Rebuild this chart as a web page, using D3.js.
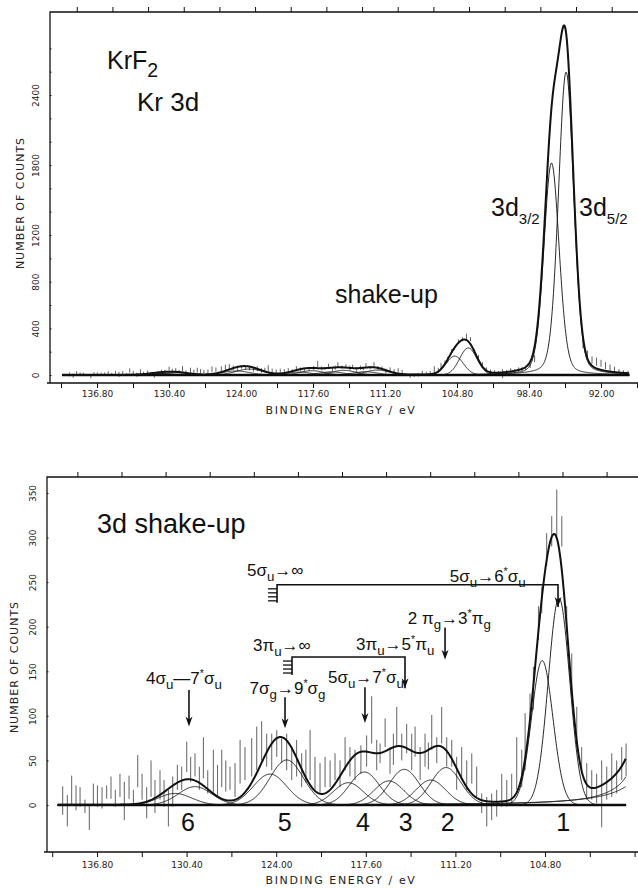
<!DOCTYPE html>
<meta charset="utf-8">
<script src="https://d3js.org/d3.v7.min.js"></script>
<style>
  body { margin: 0; background: #fff; }
  text { fill: #111; }
  .ax text { font-family: "DejaVu Sans", sans-serif; font-size: 9px; fill: #222; }
  .lbl { font-family: "Liberation Sans", "DejaVu Sans", sans-serif; }
  .plot { font-family: "DejaVu Sans", sans-serif; font-size: 11px; letter-spacing: 1px; fill: #222; }
</style>
<div id="chart"></div>
<script>
// ---- fitted line components (Kr 3d main lines + shake-up doublets) ----
const lineNames   = ["3d5/2", "3d3/2", "1", "1'", "2", "2'", "3", "3'", "4", "4'", "5", "5'", "6", "6'"];
const lineCentre  = [95.10, 96.40, 103.80, 105.00, 111.87, 112.96, 114.85, 115.95, 117.70, 118.85, 123.25, 124.44, 129.80, 131.23];
const lineHeight  = [2597, 1817, 232, 162, 42, 28, 40, 27, 37, 25, 50.5, 34.7, 20.6, 13.0];
const lineFwhm    = [1.6, 1.6, 1.8, 1.8, 2.5, 2.5, 2.5, 2.5, 2.5, 2.5, 2.8, 2.8, 2.8, 2.8];
const lineLorentz = [0.2, 0.2, 0, 0, 0, 0, 0, 0, 0, 0, 0, 0, 0, 0];

// ---- measured counts, shown as vertical error bars (binding energy, high, low) ----
const spectrumE = [139.25, 138.92, 138.61, 138.30, 138.01, 137.66, 137.35, 137.06, 136.77, 136.44,
  136.11, 135.80, 135.49, 135.16, 134.85, 134.51, 134.20, 133.89, 133.58, 133.25,
  132.94, 132.66, 132.30, 132.01, 131.70, 131.39, 131.06, 130.75, 130.39, 130.11,
  129.80, 129.49, 129.20, 128.89, 128.49, 128.19, 127.89, 127.60, 127.30, 126.94,
  126.58, 126.23, 125.75, 125.39, 125.04, 124.68, 124.32, 123.96, 123.61, 123.25,
  122.89, 122.54, 122.18, 121.88, 121.58, 121.23, 120.87, 120.51, 120.15, 119.80,
  119.44, 119.08, 118.73, 118.37, 117.95, 117.54, 117.18, 116.82, 116.58, 116.22,
  115.87, 115.63, 115.39, 115.03, 114.68, 114.32, 114.08, 113.72, 113.37, 113.13,
  112.89, 112.53, 112.18, 111.82, 111.46, 111.11, 110.75, 110.39, 110.03, 109.68,
  109.32, 108.96, 108.61, 108.25, 107.89, 107.53, 107.18, 106.82, 106.46, 106.22,
  105.87, 105.63, 105.27, 105.03, 104.68, 104.32, 103.96, 103.60, 103.25, 102.89,
  102.53, 102.18, 101.82, 101.46, 101.11, 100.75, 100.39, 100.03, 99.68, 99.32, 99.01];
const spectrumHi = [21, 11, 33, 22, 20, 6, 0, 24, 22, 20,
  22, 32, 17, 35, 26, 33, 17, 56, 35, 20,
  50, 28, 39, 28, 17, 32, 45, 43, 71, 54,
  58, 43, 76, 39, 62, 45, 62, 50, 43, 47,
  73, 65, 75, 88, 94, 80, 80, 84, 75, 80,
  65, 73, 58, 62, 84, 54, 47, 54, 50, 58,
  50, 76, 65, 62, 67, 78, 122, 73, 69, 97,
  65, 80, 110, 80, 91, 80, 88, 65, 80, 70,
  101, 76, 110, 76, 73, 54, 65, 50, 58, 43,
  13, 9, 13, 17, 35, 28, 35, 76, 62, 103,
  125, 155, 223, 245, 305, 324, 354, 324, 223, 170,
  110, 65, 47, 39, 35, 50, 43, 58, 50, 65, 69];
const spectrumLo = [-11, -24, 0, -6, -2, -9, -28, 0, -2, -4,
  7, 7, -2, 9, -17, 7, 0, 20, 6, -15,
  9, -9, 6, -2, -24, -2, 17, 17, 37, 26,
  32, 17, 30, 13, 13, 10, 20, 15, 17, 9,
  24, 28, 32, 39, 50, 43, 39, 54, 47, 39,
  28, 32, 20, 25, 28, 17, 13, 20, 20, 28,
  20, 39, 32, 28, 35, 43, 69, 39, 47, 65,
  35, 45, 65, 50, 58, 39, 54, 28, 43, 40,
  62, 47, 69, 43, 43, 17, 28, 17, 24, 9,
  -9, -24, -17, -13, -2, -2, 2, 17, 20, 39,
  95, 107, 185, 215, 268, 290, 301, 290, 193, 122,
  65, 35, 6, 6, 2, -25, 6, 9, 13, 28, 32];
// extra points on the wings of the main 3d lines (upper panel only)
const tailE  = [98.7, 98.3, 97.9, 93.6, 93.2, 92.8, 92.4, 92.0, 91.6, 91.2, 90.8, 90.4, 90.0, 89.6];
const tailHi = [80, 100, 170, 300, 210, 160, 150, 130, 110, 90, 70, 50, 40, 35];
const tailLo = [45, 60, 110, 230, 150, 100, 80, 70, 50, 35, 20, 5, -5, -10];

// ---- axis ticks and labels ----
const topXLabels = ["136.80", "130.40", "124.00", "117.60", "111.20", "104.80", "98.40", "92.00"];
const botXLabels = ["136.80", "130.40", "124.00", "117.60", "111.20", "104.80"];
const topYLabels = [0, 400, 800, 1200, 1800, 2400];
const botYLabels = [0, 50, 100, 150, 200, 250, 300, 350];
const peakNumbers = ["1", "2", "3", "4", "5", "6"];
const peakNumberE = [103.5, 111.75, 114.75, 117.8, 123.4, 130.3];

const svg = d3.select("#chart").append("svg")
  .attr("width", 638).attr("height", 889);

function profile(i, E) {
  const u = (E - lineCentre[i]) / lineFwhm[i];
  return lineHeight[i] * ((1 - lineLorentz[i]) * Math.exp(-4 * Math.LN2 * u * u)
    + lineLorentz[i] / (1 + 4 * u * u));
}
function total(E) {
  return d3.sum(lineCentre, (c, i) => profile(i, E));
}

// text with subscripts / superscripts: parts = [str, kind, dx]
function rich(g, x, y, parts, size, subScale) {
  const t = g.append("text").attr("class", "lbl").attr("x", x).attr("y", y)
    .attr("font-size", size);
  let cur = 0;
  parts.forEach(([str, kind, dx]) => {
    const target = kind === "sub" ? size * 0.3 : kind === "sup" ? -size * 0.4 : 0;
    const ts = t.append("tspan").text(str).attr("dy", target - cur);
    if (dx) ts.attr("dx", dx);
    if (kind === "sub") ts.attr("font-size", size * (subScale || 0.78));
    if (kind === "sup") ts.attr("font-size", size * 0.62);
    cur = target;
  });
  return t;
}

function panel(o) {
  const g = svg.append("g");
  const clipId = "clip" + o.id;
  svg.append("clipPath").attr("id", clipId).append("rect")
    .attr("x", o.left + 1).attr("y", o.top + 1)
    .attr("width", 638 - o.left).attr("height", o.bottom - o.top - 2);

  // frame
  g.append("path")
    .attr("d", `M${o.left},${o.bottom}V${o.top}H638M${o.left - 3},${o.bottom}H638`)
    .attr("fill", "none").attr("stroke", "#111").attr("stroke-width", 1.3);

  // y axis
  const ya = g.append("g").attr("class", "ax").attr("transform", `translate(${o.left},0)`)
    .call(d3.axisLeft(o.y).tickValues(o.yTicks).tickSize(4).tickSizeOuter(0)
      .tickFormat(d => o.yLabels.includes(d) ? d : ""));
  ya.select(".domain").remove();
  ya.selectAll(".tick line").attr("stroke", "#111").attr("x2", 1.5);
  ya.selectAll(".tick text").attr("transform", "rotate(-90)")
    .attr("x", 0).attr("y", -11).attr("dy", 0).attr("text-anchor", "middle");

  // x axis (bottom) and top border ticks
  const xa = g.append("g").attr("class", "ax").attr("transform", `translate(0,${o.bottom})`)
    .call(d3.axisBottom(o.x).tickValues(o.xTicks).tickSize(5).tickSizeOuter(0).tickPadding(o.pad)
      .tickFormat(d => o.xLabels.includes(d.toFixed(2)) ? d.toFixed(2) : ""));
  xa.select(".domain").remove();
  xa.selectAll(".tick line").attr("stroke", "#111");
  const ta = g.append("g").attr("transform", `translate(0,${o.top})`)
    .call(d3.axisTop(o.x).tickValues(o.topTicks).tickSize(5).tickFormat(""));
  ta.select(".domain").remove();
  ta.selectAll(".tick line").attr("stroke", "#111");

  // axis titles
  g.append("text").attr("class", "plot")
    .attr("transform", `translate(${o.yTitleX},${o.yTitleY}) rotate(-90)`)
    .attr("text-anchor", "middle").text("NUMBER OF COUNTS");
  g.append("text").attr("class", "plot").attr("x", 341).attr("y", o.xTitleY)
    .attr("text-anchor", "middle").style("letter-spacing", "1.6px").text("BINDING ENERGY / eV");

  const plot = g.append("g").attr("clip-path", `url(#${clipId})`);
  const grid = d3.range(o.Estart, o.Eend, -0.04);

  // error bars
  plot.append("g").selectAll("line").data(o.bars).join("line")
    .attr("x1", d => o.x(d[0])).attr("x2", d => o.x(d[0]))
    .attr("y1", d => o.y(d[1])).attr("y2", d => o.y(d[2]))
    .attr("stroke", "#333").attr("stroke-width", 0.9).attr("opacity", 0.85);

  // baseline
  plot.append("line")
    .attr("x1", o.x(o.Estart)).attr("x2", o.x(o.Eend))
    .attr("y1", o.y(0)).attr("y2", o.y(0))
    .attr("stroke", "#111").attr("stroke-width", 2.6);

  // components
  const line = d3.line().x(d => o.x(d[0])).y(d => o.y(d[1]));
  plot.append("g").selectAll("path").data(lineNames).join("path")
    .attr("d", (n, i) => line(grid.map(E => [E, Math.min(profile(i, E), o.cap)])))
    .attr("fill", "none").attr("stroke", "#111").attr("stroke-width", 0.9);

  // envelope
  plot.append("path")
    .attr("d", line(grid.map(E => [E, Math.min(total(E), o.cap)])))
    .attr("fill", "none").attr("stroke", "#111").attr("stroke-width", 2);
  return g;
}

// ---------- upper panel ----------
const xT = d3.scaleLinear().domain([136.8, 92.0]).range([97, 601]);
const yT = d3.scaleLinear().domain([0, 2400]).range([375, 95]);
const barsAll = spectrumE.map((E, i) => [E, spectrumHi[i], spectrumLo[i]])
  .concat(tailE.map((E, i) => [E, tailHi[i], tailLo[i]]));
const gT = panel({
  id: "T", x: xT, y: yT, left: 50, top: 12, bottom: 383, pad: 3,
  yTicks: d3.range(0, 2801, 200), yLabels: topYLabels,
  xTicks: d3.range(0, 17).map(k => +(140 - 3.2 * k).toFixed(1)), xLabels: topXLabels,
  topTicks: d3.range(0, 16).map(k => 138.6 - 3.17 * k),
  yTitleX: 24, yTitleY: 203, xTitleY: 414,
  Estart: 139.9, Eend: 89.5, bars: barsAll, cap: 5000
});
rich(gT, 107, 69, [["KrF"], ["2", "sub"]], 25);
rich(gT, 137, 111, [["Kr 3d"]], 26);
rich(gT, 335, 303, [["shake-up"]], 25);
rich(gT, 491, 216, [["3d"], ["3/2", "sub"]], 25, 0.6);
rich(gT, 579, 216, [["3d"], ["5/2", "sub"]], 25, 0.6);

// ---------- lower panel ----------
const xB = d3.scaleLinear().domain([136.8, 104.8]).range([97, 545]);
const yB = d3.scaleLinear().domain([0, 350]).range([805, 493]);
const gB = panel({
  id: "B", x: xB, y: yB, left: 47, top: 477, bottom: 852, pad: 5,
  yTicks: botYLabels, yLabels: botYLabels,
  xTicks: d3.range(0, 14).map(k => +(140 - 3.2 * k).toFixed(1)), xLabels: botXLabels,
  topTicks: d3.range(0, 14).map(k => 138.2 - 3.15 * k),
  yTitleX: 18, yTitleY: 667, xTitleY: 884,
  Estart: 139.6, Eend: 99.0,
  bars: spectrumE.map((E, i) => [E, spectrumHi[i], spectrumLo[i]]), cap: 1000
});
rich(gB, 97, 533, [["3d shake-up"]], 27);

// peak numbers
gB.selectAll(".pn").data(peakNumbers).join("text").attr("class", "lbl")
  .attr("x", (d, i) => xB(peakNumberE[i])).attr("y", 831)
  .attr("text-anchor", "middle").attr("font-size", 25).text(d => d);

// transition assignments
const notes = [
  { E: 126.09, c: 257, parts: [["5σ"], ["u", "sub"], ["→∞"]] },
  { E: 111.6, c: 250, parts: [["5σ"], ["u", "sub"], ["→6"], ["*", "sup"], ["σ"], ["u", "sub"]] },
  { E: 114.6, c: 203, parts: [["2 π"], ["g", "sub"], ["→3"], ["*", "sup"], ["π"], ["g", "sub"]] },
  { E: 125.66, c: 173, parts: [["3π"], ["u", "sub"], ["→∞"]] },
  { E: 118.3, c: 174, parts: [["3π"], ["u", "sub"], ["→5"], ["*", "sup"], ["π"], ["u", "sub"]] },
  { E: 120.3, c: 137, parts: [["5σ"], ["u", "sub"], ["→7"], ["*", "sup"], ["σ"], ["u", "sub"]] },
  { E: 125.9, c: 125, parts: [["7σ"], ["g", "sub"], ["→9"], ["*", "sup"], ["σ"], ["g", "sub"]] },
  { E: 133.3, c: 136, parts: [["4σ"], ["u", "sub"], ["—7"], ["*", "sup"], ["σ"], ["u", "sub"]] }
];
notes.forEach(n => rich(gB, xB(n.E), yB(n.c), n.parts, 17));

function arrowHead(g, x, y) {
  g.append("path").attr("d", `M${x - 3.5},${y - 10}L${x},${y}L${x + 3.5},${y - 10}L${x},${y - 7}Z`)
    .attr("fill", "#111");
}
// thresholds (hatched start) with arrows to the onset
const brackets = [
  { E0: 123.94, E1: 103.87, c: 247, cEnd: 222 },
  { E0: 122.87, E1: 114.8, c: 166, cEnd: 131 }
];
brackets.forEach(b => {
  const x0 = xB(b.E0), x1 = xB(b.E1), y0 = yB(b.c), y1 = yB(b.cEnd);
  gB.append("path").attr("d", `M${x0},${y0 + 18}V${y0}H${x1}V${y1}`)
    .attr("fill", "none").attr("stroke", "#111").attr("stroke-width", 1.6);
  [4, 8, 12, 16].forEach(dy => gB.append("line")
    .attr("x1", x0 - 9).attr("x2", x0).attr("y1", y0 + dy).attr("y2", y0 + dy)
    .attr("stroke", "#111").attr("stroke-width", 1.3));
  arrowHead(gB, x1, y1);
});
const arrows = [
  { E: 111.94, c0: 199, c1: 163 },
  { E: 117.66, c0: 132, c1: 92 },
  { E: 123.37, c0: 121, c1: 86 },
  { E: 130.23, c0: 129, c1: 88 }
];
arrows.forEach(a => {
  gB.append("line").attr("x1", xB(a.E)).attr("x2", xB(a.E))
    .attr("y1", yB(a.c0)).attr("y2", yB(a.c1) - 3)
    .attr("stroke", "#111").attr("stroke-width", 1.6);
  arrowHead(gB, xB(a.E), yB(a.c1));
});
</script>
